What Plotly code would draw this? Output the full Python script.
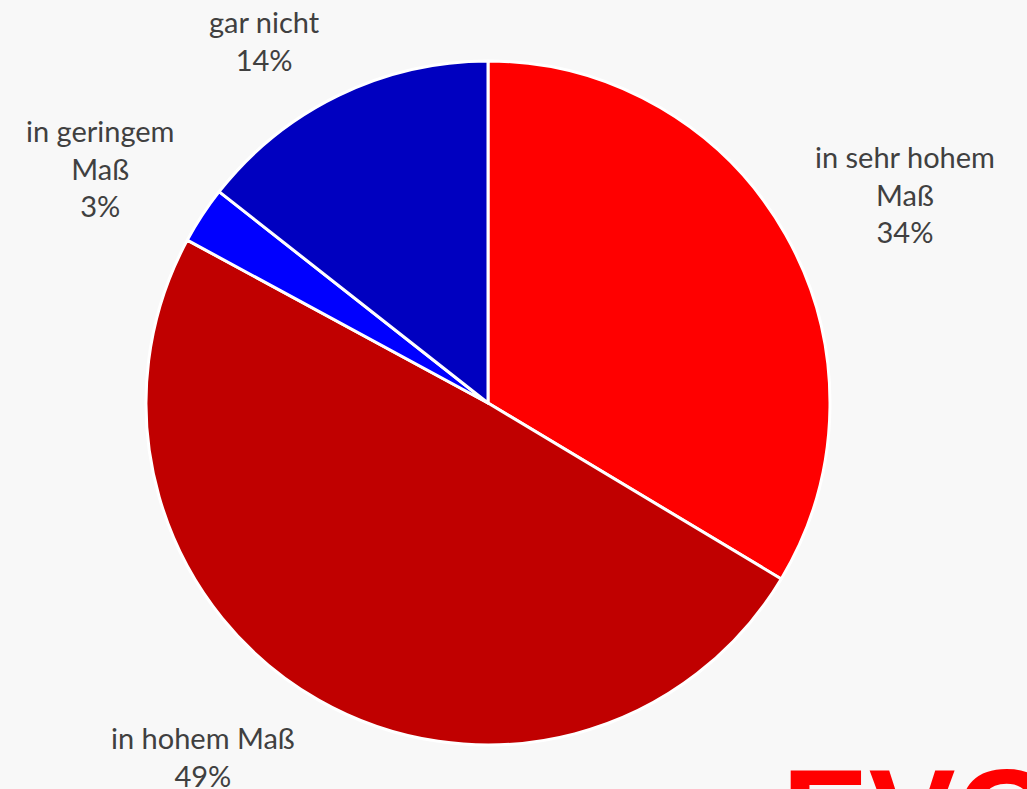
import plotly.graph_objects as go

categories = ["in sehr hohem Maß", "in hohem Maß", "in geringem Maß", "gar nicht"]
values = [33.6, 49.3, 2.7, 14.4]
colors = ["#FF0000", "#C00000", "#0000FF", "#0000C0"]
label_texts = ["in sehr hohem<br>Maß", "in hohem Maß", "in geringem<br>Maß", "gar nicht"]
# label block centres in pixels from top-left
label_px = [(905, 194), (203, 756), (100, 168), (264, 40)]

W, H = 1027, 789
total = sum(values)

fig = go.Figure()
fig.add_trace(go.Pie(
    labels=categories,
    values=values,
    sort=False,
    direction="clockwise",
    rotation=0,
    marker=dict(colors=colors, line=dict(color="white", width=3)),
    textinfo="none",
    hoverinfo="label+percent",
    showlegend=False,
    domain=dict(x=[146 / W, 830 / W], y=[1 - 745 / H, 1 - 61 / H]),
))

for txt, v, (px, py) in zip(label_texts, values, label_px):
    fig.add_annotation(
        text=f"{txt}<br>{round(v / total * 100)}%",
        x=px / W, y=1 - py / H, xref="paper", yref="paper",
        xanchor="center", yanchor="middle",
        showarrow=False,
        font=dict(family="Lato, Open Sans, sans-serif", size=29, color="#404040"),
    )

fig.add_annotation(
    text="<b>EVG</b>", x=780 / W, y=1 - 740 / H, xref="paper", yref="paper",
    xanchor="left", yanchor="top", showarrow=False,
    font=dict(family="Liberation Sans, Arial, sans-serif", size=130, color="#FF0000"),
)

fig.update_layout(
    width=W, height=H,
    margin=dict(l=0, r=0, t=0, b=0),
    paper_bgcolor="#f8f8f8",
    plot_bgcolor="#f8f8f8",
)

fig.write_html(
    "out.html",
    config={"displayModeBar": False},
    post_script="document.body.style.margin='0';document.body.style.overflow='hidden';",
)
